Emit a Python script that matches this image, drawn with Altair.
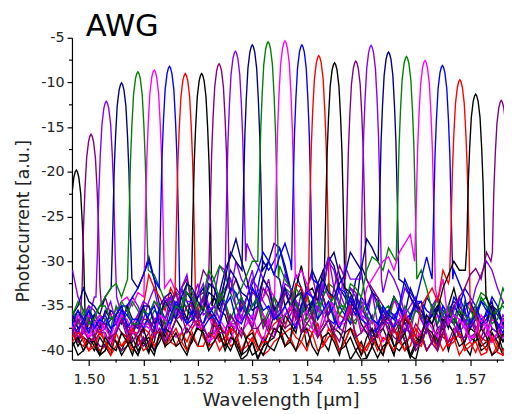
import altair as alt
import pandas as pd

# wavelength grids for the noise-floor readings (um)
GRID = [1.497, 1.499, 1.501, 1.503, 1.505, 1.507, 1.509, 1.511, 1.513, 1.515,
        1.517, 1.519, 1.521, 1.523, 1.525, 1.527, 1.529, 1.531, 1.533, 1.535,
        1.537, 1.539, 1.541, 1.543, 1.545, 1.547, 1.549, 1.551, 1.553, 1.555,
        1.557, 1.559, 1.561, 1.563, 1.565, 1.567, 1.569, 1.571, 1.573, 1.575, 1.577]
GRID_MID = [1.498, 1.500, 1.502, 1.504, 1.506, 1.508, 1.510, 1.512, 1.514, 1.516,
            1.518, 1.520, 1.522, 1.524, 1.526, 1.528, 1.530, 1.532, 1.534, 1.536,
            1.538, 1.540, 1.542, 1.544, 1.546, 1.548, 1.550, 1.552, 1.554, 1.556,
            1.558, 1.560, 1.562, 1.564, 1.566, 1.568, 1.570, 1.572, 1.574, 1.576]

# channel peak wavelengths (um) and peak heights
CENTERS = [1.4977, 1.5004, 1.5032, 1.5060, 1.5090, 1.5120, 1.5148, 1.5177, 1.5207,
           1.5239, 1.5269, 1.5300, 1.5329, 1.5360, 1.5391, 1.5422, 1.5451, 1.5490,
           1.5518, 1.5550, 1.5583, 1.5617, 1.5649, 1.5681, 1.5710, 1.5757]
PEAKS = [-19.8, -15.8, -12.1, -10.05, -8.8, -8.6, -8.2, -9.0, -9.0, -7.9, -6.5, -5.8,
         -5.45, -5.35, -5.8, -7.0, -7.8, -7.6, -5.85, -6.6, -7.1, -7.55, -8.1, -9.7,
         -11.3, -12.0]
# level where each passband meets the floor, left and right side
FOOT_L = [-34, -36, -34, -33, -32, -34, -33, -34, -34, -32, -32, -31, -30,
          -34, -31, -33, -32, -32, -32, -30, -30, -30, -32, -32, -31, -30]
FOOT_R = [-38, -35, -34, -32, -31, -33, -34, -35, -35, -33, -30, -31, -32,
          -32, -32, -34, -33, -32, -32, -32, -32, -33, -32, -35, -34, -34]

# passband shape read from the peaks: offset from centre (um) and drop (dB)
PROFILE_OFF = [-0.00163, -0.0015, -0.00136, -0.0011, -0.0008, -0.00045, -0.0002, 0.0,
               0.0002, 0.00045, 0.0008, 0.0011, 0.00136, 0.0015, 0.00163]
PROFILE_DROP = [-17, -13.5, -10, -6, -2.6, -0.8, -0.2, 0,
                -0.2, -0.8, -2.6, -6, -10, -13.5, -17]
FOOT_OFF = 0.0019

COLOR_CYCLE = ["#000000", "#800080", "#8000FF", "#000080",
               "#008000", "#FF00FF", "#0000FF", "#FF0000"]

# noise floor of each channel on GRID (None = inside the passband)
F00 = [None, None, -38, -40, -39, -38.5, -40.5, -40, -36, -38,
       -37.5, -39, -38, -37, -39.5, -38, -40, -41, -39, -37,
       -38.5, -36, -38, -39, -37.5, -39, -40, -40.8, -38, -39,
       -37, -40.5, -38, -39, -37.5, -38, -39.5, -38, -39, -38, -39]
F01 = [-37.5, None, None, -34, -37, -38.5, -39.5, -39, -38, -35,
       -34, -36, -33.5, -37, -35, -38, -36, -34, -37.5, -35,
       -36, -38, -34.5, -37, -36, -38, -35.5, -37, -38.5, -36,
       -39, -37.5, -38, -39.2, -37, -38.5, -36.5, -38, -37, -38, -37.5]
F02 = [-31, -35.5, -34, None, -33, -35.5, -35, -34.5, -36, -34,
       -33, -35.5, -32.5, -34, -31, -30, -33, -35, -32, -34.5,
       -33, -36, -34, -32.5, -35, -33.5, -36, -35, -37, -35.5,
       -36, -38, -36.5, -35, -37, -36, -35.5, -37.5, -36, -38, -37]
F03 = [-36, -33, -35, -34, None, None, -33, -29.5, -35, -36.5,
       -34, -36, -33, -35, -31, -27.5, -32, -34, -30, -28.5,
       -33, -35, -31, -33.5, -30.5, -34, -32, -35.5, -34, -36,
       -35, -33, -36.5, -35, -37, -34.5, -36, -35.5, -37, -36, -37.5]
F04 = [-36, -35.5, -36, -34, -32.5, -31, None, -30, -33, -35,
       -34, -36.5, -34.5, -32, -31.5, -35, -36, -34.5, -37, -35,
       -33.5, -36, -37.5, -34, -33, -35.5, -36.5, -35, -37, -35,
       -37.5, -36, -34.5, -36, -35, -37, -36.5, -35.5, -34, -35.5, -36]
F05 = [-37, -37.5, -36.5, -37, -35.5, -34, -33.5, None, None, -32,
       -35, -36, -37, -38, -38.5, -37.5, -36, -35, -37, -36.5,
       -34, -35.5, -37, -36, -38, -36.5, -35, -37.5, -38, -36.5,
       -35, -37, -36, -38, -37, -38.5, -37.5, -36, -38.5, -37, -38]
F06 = [-37.5, -38, -37, -37.5, -36, -35, -33, -30, -33, None,
       -33, -36, -37, -36.5, -38, -37, -35.5, -33, -31, -28.5,
       -33, -36, -34.5, -35, -37, -36, -34, -36.5, -37.5, -35.5,
       -37, -36, -34.5, -36, -35, -37, -35.5, -36.5, -35, -37, -36]
F07 = [-38, -39.5, -39, -39.5, -39, -38.5, -37.5, -31.5, -34, -33,
       None, None, -34, -37, -38.5, -39.5, -38.5, -39.5, -40, -38.5,
       -37.5, -39, -38, -39.5, -38, -39, -38.5, -39.5, -38, -39,
       -38.5, -39.5, -38.5, -39, -40, -38.5, -39.5, -40.2, -39, -39.5, -39]
F08 = [-38, -38.5, -40, -39.5, -38, -37.5, -40.5, -40.3, -36, -37,
       -35, -33, None, -34, -36, -39.5, -40.5, -40.8, -38, -37,
       -39, -30.5, -36, -37.5, -38.5, -39.5, -40, -40.8, -38, -37,
       -40, -40.8, -38.5, -37, -38, -33, -37, -39, -38.5, -40, -39.5]
F09 = [-38, -37.5, -38.5, -39.5, -39, -39.5, -38.5, -39, -36, -34,
       -33, -35, -31, None, None, -32, -36, -34.5, -36, -37,
       -35.5, -33, -36.5, -34, -37.5, -35, -33.5, -36, -37, -38,
       -36.5, -38.5, -38, -39, -38.5, -37.5, -39, -38, -37, -38.5, -38]
F10 = [-37, -38, -37.5, -36.5, -37, -38, -37, -36, -35.5, -34,
       -36.5, -33.5, -35, -33, -31, None, -28, -30.5, -33, -35.5,
       -34, -36, -31.5, -33, -31, -35, -34, -36.5, -35, -37,
       -35.5, -34, -36, -35, -37.5, -36, -37, -35, -36.5, -37, -36]
F11 = [-36.5, -37, -36, -37.5, -36, -35, -36.5, -37, -35, -33.5,
       -36, -34.5, -35.5, -33, -32, -30, None, None, -30, -32,
       -34, -33, -35, -31, -29, -33, -35.5, -32, -34.5, -36,
       -35, -36.5, -35.5, -37, -36, -35, -37, -36, -35.5, -37.5, -36]
F12 = [-35.5, -36, -37, -36.5, -35, -36, -35.5, -37, -36, -34.5,
       -35, -33.5, -34, -32, -33, -34, -31.5, -28, None, -30.5,
       -33, -36, -35, -34, -36.5, -35, -37, -36, -34.5, -36.5,
       -35, -37, -36, -35.5, -37, -36, -34.5, -36.5, -35, -36.5, -35.5]
F13 = [-37.5, -37, -38, -37.5, -36.5, -37, -36, -37.5, -38, -37,
       -36, -37.5, -38, -38.5, -38, -37, -36.5, -35, -33, None,
       None, -31, -34, -36, -35.5, -37, -36, -38, -37.5, -38,
       -36.5, -37, -38, -37.5, -36, -38, -37, -38.5, -37.5, -38, -37]
F14 = [-37, -36.5, -37.5, -36, -37, -36, -37.5, -36.5, -35, -37,
       -36, -35.5, -37, -36, -35, -33.5, -34, -31, -30, -29.5,
       -30, None, -31, -34, -35, -33.5, -36, -35, -37, -36.5,
       -35, -36, -34.5, -36, -35.5, -34, -33, -35, -36, -35, -36.5]
F15 = [-38.5, -39, -38.5, -39, -39.5, -38.5, -39, -38, -38.5, -39,
       -38, -37.5, -38.5, -39, -38, -39, -38.5, -37.5, -38, -36.5,
       -35, -33, None, None, -34, -36.5, -38.5, -40, -39.5, -38.5,
       -39, -38, -39.5, -38.5, -38, -39, -40, -39, -40.2, -39.5, -39]
F16 = [-39, -40, -39.5, -40, -39, -39.5, -40, -38.5, -39, -38,
       -39, -38.5, -37.5, -38, -39, -38.5, -39, -40, -39.5, -38.5,
       -37, -35, -33, -31, None, -31.5, -35, -38, -40.8, -39,
       -38, -37, -39, -38, -36.5, -38, -39, -38, -39.5, -39, -40]
F17 = [-37.5, -38, -39, -38, -37.5, -38.5, -37, -38, -36, -35,
       -36.5, -35, -34, -36, -35, -37, -36, -35.5, -34, -36,
       -35, -33.5, -36, -34, -33, -31, None, -31, -34, -36.5,
       -37, -38.5, -39, -39.2, -38, -37, -38.5, -37.5, -38, -37, -38.5]
F18 = [-36, -36.5, -35.5, -36, -37, -35.5, -36, -35, -36.5, -35,
       -33, -34.5, -36, -35, -33.5, -35, -34, -33, -35.5, -34.5,
       -33, -35, -34, -31.5, -33, -30.5, -32, None, None, -31,
       -33.5, -35, -36.5, -35, -36, -35.5, -37, -33, -30, -33, -35]
F19 = [-36, -37, -36.5, -35.5, -36, -37, -36.5, -35, -36, -35.5,
       -34, -33, -35.5, -34, -33.5, -32, -34, -35, -33, -34.5,
       -35, -33.5, -34.5, -32, -34, -31.5, -30, -27.5, -29, None,
       -31, -34, -35.5, -36, -37, -36.5, -35, -36, -36.5, -35.5, -36]
F20 = [-36, -35.5, -36.5, -35, -36, -35.5, -37, -36, -35, -36.5,
       -35.5, -34, -35, -36, -34.5, -35, -36, -34, -35.5, -36.5,
       -35, -34, -35.5, -36, -34, -35, -33, -31, -30, -28.5,
       None, None, -31, -35.5, -36, -37, -36, -35, -34, -35.5, -34.5]
F21 = [-37.5, -38, -37, -38.5, -37.5, -36.5, -38, -37, -36, -37.5,
       -38, -36.5, -37, -38, -37.5, -36, -37, -38, -36.5, -37,
       -35, -36.5, -37.5, -36, -35, -36.5, -35, -33, -31, -29.5,
       -29, -27, None, None, -32, -36, -37.5, -38, -37, -38, -37.5]
F22 = [-37, -36.5, -37.5, -37, -36, -37.5, -36.5, -36, -37, -36,
       -35.5, -36.5, -37.5, -36, -35, -36.5, -35.5, -34, -35, -36,
       -36.5, -35, -34, -35.5, -36.5, -36, -35, -37, -37.5, -36,
       -35, -33.5, -32, -30.5, None, -31, -34, -36, -35.5, -37, -36.5]
F23 = [-39, -38.5, -39.5, -39, -38, -39, -38.5, -39.5, -38, -38.5,
       -39, -38, -39.5, -38.5, -39, -38, -39.5, -40, -39, -38,
       -38.5, -39, -38, -39.5, -38.5, -39, -38, -39.5, -40, -39,
       -38.5, -37, -35, -33, -31, None, None, -36, -40, -40.2, -39]
F24 = [-39.5, -40, -39, -38.5, -40, -39, -38.5, -39.5, -38, -39,
       -39.5, -38.5, -38, -39, -40, -39, -38.5, -39.5, -39, -38,
       -39, -38, -39.5, -38.5, -39, -38, -39, -38.5, -39.5, -38,
       -39, -40.5, -38.5, -37, -33, -30, -29.5, None, -33, -38, -37.5]
F25 = [-38, -37.5, -38.5, -37, -38, -37.5, -38, -36.5, -37.5, -38,
       -36, -37, -37.5, -36.5, -38, -37, -36, -37.5, -38, -36.5,
       -37, -38, -36, -37.5, -38, -37, -38.5, -37, -38, -37.5,
       -39, -38, -39, -38.5, -37, -35, -33, -30.8, -29, None, None]

# the same floors read on GRID_MID
M00 = [None, -36.5, -40.5, -38, -40, -39.5, -38.5, -39, -39.5, -36.5,
       -40, -37, -39.5, -38.5, -37, -40.5, -39, -39.5, -38.5, -39.5,
       -37, -39.5, -37, -40, -38, -41, -39, -39.5, -37.5, -40.5,
       -39, -39, -40, -38, -40, -37, -40.5, -39.5, -37.5, -40]
M01 = [-36, None, None, -36, -38, -37, -38.5, -40, -36.5, -33,
       -35.5, -34, -35.5, -34, -37.5, -35, -33.5, -36, -34, -37,
       -34.5, -36, -38, -35, -37.5, -34, -38, -36, -37.5, -37.5,
       -36, -39.5, -37, -38, -39.5, -37, -38.5, -36.5, -39, -36.5]
M02 = [-34, -36.5, None, None, -36, -34, -36.5, -33, -35, -36.5,
       -31.5, -34, -35, -30.5, -33.5, -32, -31, -34, -35.5, -31.5,
       -35, -33.5, -35.5, -34, -31.5, -36, -34.5, -33.5, -36, -34,
       -37, -35, -38, -36, -35.5, -37.5, -34.5, -36.5, -37.5, -36]
M03 = [-35, -34.5, -36, None, None, None, -31.5, -32, -37, -35,
       -35.5, -34, -36, -33.5, -29.5, -30, -35, -32, -28, -30.5,
       -36.5, -33, -32.5, -29.5, -33, -35.5, -31, -33.5, -36.5, -34,
       -36, -34.5, -34, -37.5, -35.5, -35, -37, -36.5, -35, -37]
M04 = [-37, -36.5, -35, -33, -34, None, None, -31.5, -34.5, -33.5,
       -35.5, -35, -33, -30.5, -33.5, -36.5, -35, -36, -35.5, -33,
       -35, -37, -35.5, -32.5, -34.5, -37, -35.5, -36.5, -35.5, -36.5,
       -35, -35, -37, -34, -36.5, -35.5, -37.5, -34.5, -36.5, -35]
M05 = [-38.5, -36, -37.5, -36, -34.5, -35, None, None, None, -33.5,
       -36.5, -37.5, -36, -39, -37, -36.5, -37, -36, -35.5, -35,
       -36.5, -38, -35, -37.5, -37, -35.5, -36, -39, -37, -34.5,
       -38, -35.5, -37.5, -36, -39, -36.5, -37.5, -37, -36.5, -38.5]
M06 = [-36.5, -37.5, -38, -36.5, -35, -34, -31.5, -32, None, None,
       -34.5, -37.5, -35.5, -37.5, -36, -34, -36.5, -30, -30, -31,
       -34.5, -35, -33, -36.5, -35, -37, -35, -38, -36.5, -36,
       -38, -35, -35.5, -37, -36, -34, -37.5, -34.5, -36, -37.5]
M07 = [-39, -38.5, -40, -38.5, -39.5, -37, -35, -33, -35.5, None,
       None, -35.5, -36, -39, -37.5, -40, -37.5, -40.5, -39, -38,
       -38.5, -40, -37, -38.5, -40, -37.5, -40, -38.5, -40, -37.5,
       -40, -37.5, -40, -38.5, -39, -40.5, -39, -38.5, -40.5, -38]
M08 = [-39.5, -39, -38.5, -40.5, -36.5, -39.5, -39, -38, -38.5, -35.5,
       -36.5, None, None, -35.5, -38, -41, -39, -39.5, -36, -38,
       -33, -33.5, -38.5, -36.5, -40, -38.5, -41, -39.5, -36.5, -39.5,
       -39, -39.5, -36.5, -39, -35, -35.5, -38.5, -37.5, -40.5, -38]
M09 = [-39, -36.5, -39.5, -38, -40, -38, -39.5, -37.5, -34.5, -35.5,
       -32, -33.5, None, None, -33.5, -34, -33, -37.5, -35, -36,
       -34, -35.5, -32.5, -36.5, -36, -33, -35.5, -38, -36, -37.5,
       -39, -37, -40, -37.5, -39, -38, -36.5, -38.5, -39, -37]
M10 = [-38.5, -36.5, -38, -37.5, -36, -37, -38, -34.5, -36.5, -35.5,
       -32.5, -36, -31.5, -34.5, None, None, -29.5, -32, -36, -33,
       -35.5, -33, -34.5, -30, -33.5, -33, -36, -33.5, -36.5, -36,
       -33, -35.5, -37, -36, -35, -38, -35.5, -37.5, -35, -37.5]
M11 = [-35.5, -38, -37, -35.5, -37, -36.5, -35, -38, -34, -35,
       -33.5, -36.5, -32.5, -35, -29, None, None, None, -31.5, -35,
       -31.5, -36, -32.5, -30, -31.5, -34.5, -30.5, -33.5, -37, -34,
       -37, -34.5, -36.5, -35, -37.5, -36, -35.5, -37.5, -34.5, -36.5]
M12 = [-37, -35, -36, -37.5, -36.5, -34.5, -37, -35.5, -35, -36,
       -32.5, -35, -31, -34.5, -32, -33, -30, None, None, -32,
       -34.5, -34, -36.5, -32.5, -35, -36.5, -34.5, -37, -35.5, -34,
       -36.5, -35.5, -37, -34, -35.5, -37.5, -35.5, -34, -37, -34.5]
M13 = [-36, -38.5, -36.5, -38.5, -35.5, -38, -37, -36.5, -39, -35.5,
       -37, -36.5, -39, -37, -39, -36, -37.5, -34, None, None,
       None, -32.5, -35.5, -34.5, -37, -35, -37.5, -36.5, -39, -37,
       -35.5, -38.5, -36.5, -38.5, -37, -36.5, -38.5, -36.5, -39, -38]
M14 = [-35.5, -38, -36.5, -37.5, -35.5, -37, -35.5, -37.5, -36.5, -35,
       -37, -36.5, -35, -37, -33, -35.5, -32.5, -29, -31.5, -28,
       None, None, -32.5, -36, -33, -35, -34, -36.5, -35.5, -37.5,
       -36.5, -34.5, -37, -35, -36.5, -35, -34, -36.5, -34, -37]
M15 = [-37.5, -40, -37.5, -40.5, -38, -40, -37.5, -39.5, -37.5, -39.5,
       -39, -36.5, -39.5, -37.5, -39.5, -37.5, -39, -39, -37, -37.5,
       -32.5, -34.5, None, None, -36, -35, -39.5, -38.5, -40.5, -37.5,
       -40, -39, -37.5, -40, -39.5, -38, -39.5, -40.5, -38, -40]
M16 = [-40.5, -38.5, -40.5, -38.5, -40.5, -38.5, -39, -40, -37.5, -39.5,
       -37.5, -39.5, -38.5, -37, -40, -37.5, -40.5, -38.5, -40, -36,
       -38, -33.5, -34.5, None, None, -33.5, -37, -39.5, -39.5, -40.5,
       -36.5, -38.5, -37.5, -39.5, -37, -39.5, -37.5, -40, -38, -40.5]
M17 = [-39, -36.5, -38, -39.5, -36.5, -38, -39, -36.5, -37.5, -33.5,
       -35, -36.5, -36, -33.5, -37, -34.5, -37.5, -33, -36.5, -33.5,
       -36.5, -35, -33, -36, -30.5, None, None, -33, -35, -38,
       -36, -39.5, -37.5, -40, -36.5, -38.5, -36.5, -39, -36, -39]
M18 = [-37.5, -35, -37, -34.5, -36, -37, -34.5, -36.5, -34, -36.5,
       -34.5, -32.5, -35.5, -36.5, -32, -36.5, -32, -34.5, -36.5, -32.5,
       -34.5, -33, -35.5, -29.5, -35, -32, None, None, -33.5, -32,
       -36, -34, -37.5, -34, -37, -34, -35.5, -31.5, -31, -34.5]
M19 = [-37.5, -35.5, -37.5, -36.5, -35, -38, -35, -37, -34.5, -36.5,
       -32.5, -34.5, -33.5, -35.5, -31, -33.5, -35.5, -32, -35.5, -33,
       -34, -36, -33, -33.5, -32.5, -29, -31, -28.5, None, None,
       -32.5, -35, -37, -35, -36, -37.5, -34.5, -37, -35, -37]
M20 = [-34.5, -37, -35, -36.5, -34.5, -37, -35.5, -34.5, -37, -35,
       -33.5, -36, -36.5, -33.5, -36.5, -34, -35, -37, -34, -36,
       -33, -36.5, -34.5, -35, -36, -32.5, -34, -29.5, -31, None,
       None, None, -33, -37, -35, -35.5, -37, -33.5, -36, -33]
M21 = [-36.5, -38.5, -36, -39, -36, -38, -37, -38.5, -36.5, -38.5,
       -37, -37.5, -39, -36.5, -37, -38, -36, -39, -38, -36,
       -37.5, -35.5, -38.5, -34.5, -37, -34, -36, -32, -30, -31,
       -28, None, None, -34.5, -37, -36.5, -39, -36, -39, -36.5]
M22 = [-38, -35.5, -36.5, -38, -35, -36.5, -37.5, -35, -38, -34.5,
       -37, -35.5, -36.5, -37, -34, -37, -33, -35.5, -36.5, -35,
       -37.5, -33.5, -36.5, -34.5, -37.5, -34, -36.5, -38.5, -35, -36.5,
       -32, -34.5, -29.5, None, None, -32.5, -37, -34.5, -36, -38]
M23 = [-38, -40, -38, -40, -39.5, -37.5, -40, -38, -39.5, -37.5,
       -40, -39.5, -38, -40, -37.5, -40, -38.5, -39, -37.5, -39.5,
       -40, -37.5, -40, -37.5, -40, -37.5, -40.5, -38.5, -38.5, -40,
       -36, -38.5, -34, -34.5, -32.5, None, None, -39, -38.5, -40.5]
M24 = [-38.5, -39, -40.5, -39.5, -38, -40.5, -37.5, -40.5, -39.5, -38,
       -40.5, -37.5, -40, -38, -38.5, -40.5, -38, -40.5, -37.5, -39.5,
       -40, -37.5, -40.5, -38, -40.5, -37.5, -40.5, -37.5, -40.5, -39.5,
       -38, -41, -36, -35.5, -31.5, -31, None, None, -35.5, -39]
M25 = [-36.5, -39, -37, -38.5, -36.5, -39, -36.5, -38.5, -39, -36.5,
       -38, -35.5, -38.5, -38, -36, -38.5, -37.5, -36.5, -38.5, -37.5,
       -35.5, -37, -38.5, -36.5, -39, -35.5, -38, -39, -36.5, -38.5,
       -37.5, -40, -37.5, -39.5, -36, -34, -31.5, -32, None, None]

FLOORS = [F00, F01, F02, F03, F04, F05, F06, F07, F08, F09, F10, F11, F12,
          F13, F14, F15, F16, F17, F18, F19, F20, F21, F22, F23, F24, F25]
FLOORS_MID = [M00, M01, M02, M03, M04, M05, M06, M07, M08, M09, M10, M11, M12,
              M13, M14, M15, M16, M17, M18, M19, M20, M21, M22, M23, M24, M25]

X_TICKS = [1.50, 1.51, 1.52, 1.53, 1.54, 1.55, 1.56, 1.57]
X_MINOR = [1.505, 1.515, 1.525, 1.535, 1.545, 1.555, 1.565, 1.575]
Y_TICKS = [-5, -10, -15, -20, -25, -30, -35, -40]
Y_MINOR = [-7.5, -12.5, -17.5, -22.5, -27.5, -32.5, -37.5]

X_DOMAIN = [1.4969, 1.5762]
Y_DOMAIN = [-41, -5]

W, H = 439, 327

rows = []
names = []
colors = []
for k in range(len(CENTERS)):
    fl, fm = FLOORS[k], FLOORS_MID[k]
    assert len(fl) == len(GRID), ("F", k, len(fl))
    assert len(fm) == len(GRID_MID), ("M", k, len(fm))
    name = "ch%02d" % k
    names.append(name)
    colors.append(COLOR_CYCLE[k % 8])
    c = CENTERS[k]
    pts = [(g, v) for g, v in list(zip(GRID, fl)) + list(zip(GRID_MID, fm))
           if v is not None and abs(g - c) >= 0.00205]
    pts += [(c + o, PEAKS[k] + d) for o, d in zip(PROFILE_OFF, PROFILE_DROP)]
    pts += [(c - FOOT_OFF, FOOT_L[k]), (c + FOOT_OFF, FOOT_R[k])]
    pts.sort()
    for j, (xv, yv) in enumerate(pts):
        rows.append({"ch": name, "wl": xv, "pc": yv, "o": j})
df = pd.DataFrame(rows)

xscale = alt.Scale(domain=X_DOMAIN, nice=False, zero=False)
yscale = alt.Scale(domain=Y_DOMAIN, nice=False, zero=False)

FONT = "DejaVu Sans"
TXT = "#222222"

lines = alt.Chart(df).mark_line(strokeWidth=1.4, clip=True).encode(
    x=alt.X("wl:Q", scale=xscale,
            axis=alt.Axis(values=X_TICKS, format=".2f", tickSize=6, labelPadding=7,
                          labelFont=FONT, labelFontSize=14.5, labelColor=TXT,
                          title="Wavelength [µm]", titleFont=FONT, titleFontSize=18.5,
                          titleFontWeight="normal", titleColor=TXT, titlePadding=5,
                          titleX=212, grid=False, domainColor="black", domainWidth=1.2,
                          tickColor="black", tickWidth=1.2)),
    y=alt.Y("pc:Q", scale=yscale,
            axis=alt.Axis(values=Y_TICKS, labelExpr="datum.value + ''", tickSize=5,
                          labelPadding=3, labelFont=FONT, labelFontSize=14.5,
                          labelColor=TXT, title="Photocurrent [a.u.]", titleFont=FONT,
                          titleFontSize=17.5, titleFontWeight="normal", titleColor=TXT,
                          titlePadding=8, titleY=186, grid=False, domainColor="black",
                          domainWidth=1.2, tickColor="black", tickWidth=1.2)),
    color=alt.Color("ch:N", scale=alt.Scale(domain=names, range=colors), legend=None),
    order=alt.Order("o:Q"),
)

ymin = alt.Chart(pd.DataFrame({"pc": Y_MINOR})).mark_rule(color="black", strokeWidth=1.2).encode(
    y=alt.Y("pc:Q", scale=yscale),
    x=alt.value(-3), x2=alt.value(0),
)
xmin = alt.Chart(pd.DataFrame({"wl": X_MINOR})).mark_rule(color="black", strokeWidth=1.2).encode(
    x=alt.X("wl:Q", scale=xscale),
    y=alt.value(H), y2=alt.value(H + 3),
)
title = alt.Chart(pd.DataFrame({"t": ["AWG"]})).mark_text(
    align="left", baseline="alphabetic", font=FONT, fontSize=31, color="black"
).encode(text="t:N", x=alt.value(14), y=alt.value(-2))

chart = alt.layer(lines, ymin, xmin, title).properties(
    width=W, height=H,
    padding={"left": 65, "top": 27, "right": 0, "bottom": 52},
    autosize=alt.AutoSizeParams(type="none"),
).configure_view(stroke=None)

chart.save("out.html", embed_options={"renderer": "svg", "actions": False})
